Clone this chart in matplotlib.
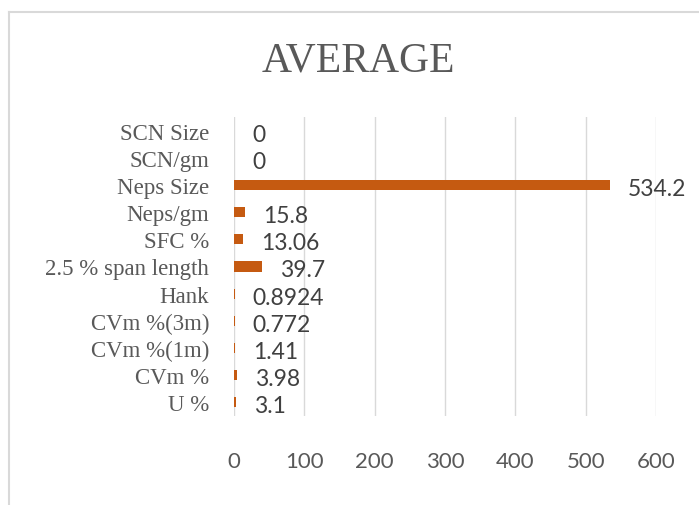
import matplotlib.pyplot as plt
from matplotlib.lines import Line2D

# 各项指标的平均值（从下往上）
labels = ["U %", "CVm %", "CVm %(1m)", "CVm %(3m)", "Hank", "2.5 % span length",
          "SFC %", "Neps/gm", "Neps Size", "SCN/gm", "SCN Size"]
values = [3.1, 3.98, 1.41, 0.772, 0.8924, 39.7, 13.06, 15.8, 534.2, 0, 0]
value_text = ["3.1", "3.98", "1.41", "0.772", "0.8924", "39.7", "13.06", "15.8", "534.2", "0", "0"]
xticks = [0, 100, 200, 300, 400, 500, 600]

bar_color = "#C55A11"
grid_color = "#D9D9D9"

fig = plt.figure(figsize=(6.99, 5.06), dpi=100)
ax = fig.add_axes([0.3348, 0.1759, 0.6037, 0.5909])

y = list(range(len(labels)))
ax.barh(y, values, height=0.37, color=bar_color, zorder=3)

for yi, v, t in zip(y, values, value_text):
    ax.annotate(t, (v, yi), xytext=(13, -2.5), textcoords="offset points",
                va="center", ha="left", fontsize=16.5, color="#404040",
                family="Lato", zorder=4)

ax.set_xlim(0, 600)
ax.set_ylim(-0.5, len(labels) - 0.5)
ax.set_xticks(xticks)
ax.set_xticklabels([str(t) for t in xticks], family="Lato", fontsize=16, color="#595959")
ax.set_yticks(y)
ax.set_yticklabels(labels, family="Liberation Serif", fontsize=16.5, color="#595959")
ax.tick_params(axis="x", length=0, pad=25)
ax.tick_params(axis="y", length=0, pad=18)
ax.grid(axis="x", color=grid_color, linewidth=1, zorder=0)
for s in ax.spines.values():
    s.set_visible(False)

fig.text(358 / 699, 1 - 61 / 506, "AVERAGE", ha="center", va="center",
         family="Liberation Serif", fontsize=30, color="#595959")

# 外框（上边和左边）
fig.add_artist(Line2D([9 / 699, 1], [1 - 13 / 506, 1 - 13 / 506], color="#D9D9D9", linewidth=1.5))
fig.add_artist(Line2D([9 / 699, 9 / 699], [0, 1 - 13 / 506], color="#D9D9D9", linewidth=1.5))

fig.savefig("out.png", dpi=100)
